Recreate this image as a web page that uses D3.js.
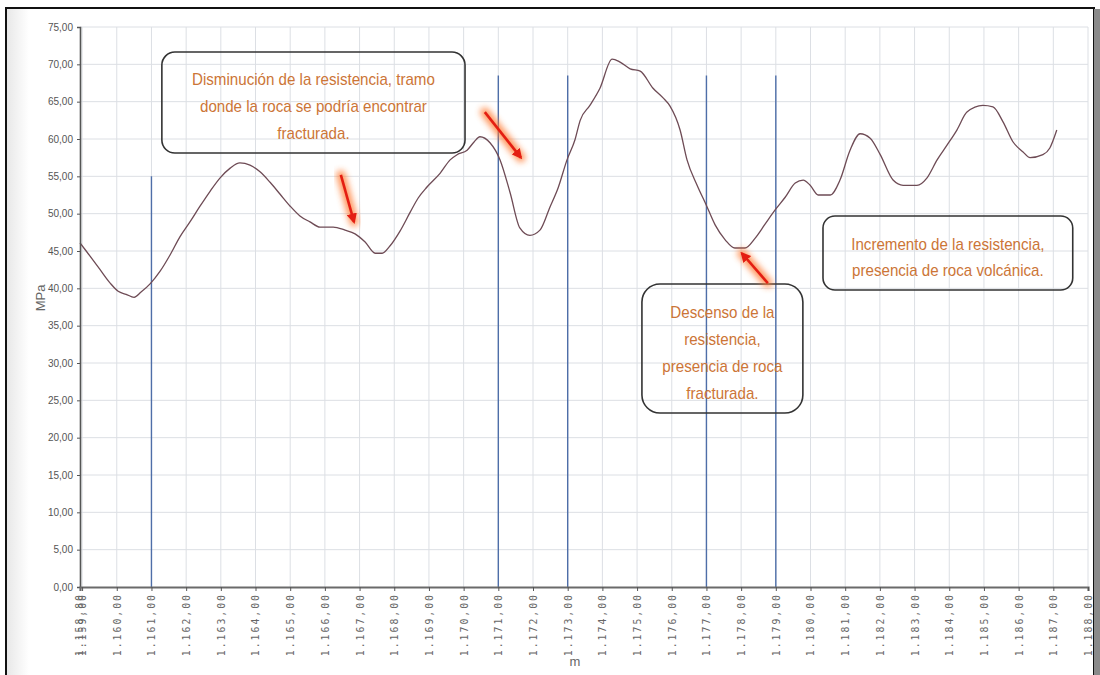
<!DOCTYPE html>
<html>
<head>
<meta charset="utf-8">
<script src="https://cdn.jsdelivr.net/npm/d3@7/dist/d3.min.js"></script>
<style>
  html, body { margin: 0; padding: 0; background: #fff; }
  svg { display: block; }
</style>
</head>
<body>
<svg id="chart" width="1100" height="675"></svg>
<script>
// Profile position (m) and uniaxial strength (MPa)
const depth = [
  1158.94, 1159.23, 1159.52, 1159.81, 1160.04, 1160.27, 1160.50, 1160.70, 1160.96, 1161.25,
  1161.54, 1161.82, 1162.11, 1162.40, 1162.69, 1162.98, 1163.27, 1163.55, 1163.84, 1164.13,
  1164.42, 1164.71, 1165.00, 1165.28, 1165.57, 1165.86, 1166.24, 1166.58, 1166.87, 1167.16,
  1167.45, 1167.65, 1167.88, 1168.17, 1168.46, 1168.69, 1168.95, 1169.32, 1169.61, 1169.81,
  1170.10, 1170.30, 1170.47, 1170.76, 1171.05, 1171.34, 1171.62, 1171.91, 1172.20, 1172.49,
  1172.72, 1172.98, 1173.21, 1173.36, 1173.64, 1173.93, 1174.28, 1174.51, 1174.80, 1175.09,
  1175.46, 1175.75, 1175.95, 1176.24, 1176.44, 1176.73, 1176.99, 1177.25, 1177.54, 1177.82,
  1178.11, 1178.40, 1178.69, 1178.98, 1179.27, 1179.56, 1179.79, 1179.99, 1180.22, 1180.57,
  1180.85, 1181.14, 1181.43, 1181.72, 1182.01, 1182.38, 1182.67, 1183.07, 1183.36, 1183.65,
  1183.94, 1184.22, 1184.51, 1184.97, 1185.26, 1185.55, 1185.84, 1186.12, 1186.33, 1186.70,
  1186.90, 1187.10
];
const strength = [
  46.1, 44.3, 42.5, 40.7, 39.6, 39.2, 38.8, 39.5, 40.6, 42.3,
  44.5, 46.9, 48.9, 51.0, 53.0, 54.8, 56.1, 56.8, 56.5, 55.6,
  54.2, 52.6, 51.0, 49.7, 48.9, 48.2, 48.2, 47.8, 47.3, 46.2,
  44.7, 44.7, 45.7, 47.7, 50.2, 52.1, 53.6, 55.4, 57.2, 57.9,
  58.5, 59.6, 60.3, 59.5, 57.2, 52.8, 48.1, 47.1, 47.8, 50.9,
  53.4, 57.2, 59.9, 62.5, 64.5, 66.8, 70.7, 70.3, 69.4, 69.1,
  66.8, 65.5, 64.4, 61.2, 57.2, 53.8, 51.2, 48.5, 46.5, 45.4,
  45.4, 46.7, 48.6, 50.5, 52.2, 54.1, 54.5, 53.8, 52.5, 52.5,
  54.5, 58.5, 60.7, 60.1, 57.9, 54.5, 53.8, 53.8, 54.8, 57.2,
  59.2, 61.2, 63.6, 64.5, 64.3, 62.3, 59.6, 58.3, 57.5, 57.9,
  58.8, 61.2
];

// Marker lines (position, top value)
const markerPos = [1161, 1171, 1173, 1177, 1179];
const markerTop = [55, 68.5, 68.5, 68.5, 68.5];

// Axis ticks
const xTickValues = d3.range(1159, 1189, 1);
const xStartLabel = "1.158,80";
const yTickValues = d3.range(0, 76, 5);

// Annotation texts and their frames (position / value extents)
const notes = [
  { lines: ["Disminución de la resistencia, tramo", "donde la roca se podría encontrar", "fracturada."],
    m0: 1161.30, m1: 1170.04, v0: 71.65, v1: 58.12, r: 13, lh: 27 },
  { lines: ["Descenso de la", "resistencia,", "presencia de roca", "fracturada."],
    m0: 1175.14, m1: 1179.78, v0: 40.58, v1: 23.3, r: 18, lh: 27 },
  { lines: ["Incremento de la resistencia,", "presencia de roca volcánica."],
    m0: 1180.36, m1: 1187.56, v0: 49.69, v1: 39.78, r: 12, lh: 26 }
];
// Arrows: [fromPos, fromVal, toPos, toVal]
const arrows = [
  [1166.46, 55.2, 1166.84, 48.9],
  [1170.61, 63.6, 1171.65, 57.5],
  [1178.77, 40.7, 1178.02, 44.7]
];

const svg = d3.select("#chart");
const W = 1100, H = 675;

const x = d3.scaleLinear().domain([1158.94, 1188]).range([80, 1088]);
const y = d3.scaleLinear().domain([0, 75]).range([587, 27]);

const defs = svg.append("defs");
defs.append("filter").attr("id", "glow").attr("x", "-50%").attr("y", "-50%").attr("width", "200%").attr("height", "200%")
  .append("feGaussianBlur").attr("stdDeviation", 3.2);
const sideShade = defs.append("linearGradient").attr("id", "sideShade").attr("x1", 0).attr("x2", 1);
sideShade.append("stop").attr("offset", 0).attr("stop-color", "#e8e8e8");
sideShade.append("stop").attr("offset", 1).attr("stop-color", "#ffffff");
defs.append("marker").attr("id", "head").attr("viewBox", "0 0 10 10").attr("refX", 8).attr("refY", 5)
  .attr("markerWidth", 4).attr("markerHeight", 4).attr("orient", "auto")
  .append("path").attr("d", "M0,0 L10,5 L0,10 z").attr("fill", "#e41e12");

// soft shading along the left margin
svg.append("rect").attr("x", 7).attr("y", 9).attr("width", 22).attr("height", H).attr("fill", "url(#sideShade)");

// grid
const grid = svg.append("g");
grid.selectAll("line.v").data(xTickValues).join("line")
  .attr("x1", d => x(d)).attr("x2", d => x(d)).attr("y1", y(75)).attr("y2", y(0))
  .attr("stroke", "#dcdfe4").attr("stroke-width", 1);
grid.selectAll("line.h").data(yTickValues.filter(d => d > 0)).join("line")
  .attr("x1", x.range()[0]).attr("x2", x.range()[1]).attr("y1", d => y(d)).attr("y2", d => y(d))
  .attr("stroke", "#dcdfe4").attr("stroke-width", 1);

// marker lines
svg.append("g").selectAll("line").data(markerPos).join("line")
  .attr("x1", d => x(d)).attr("x2", d => x(d))
  .attr("y1", y(0)).attr("y2", (d, i) => y(markerTop[i]))
  .attr("stroke", "#4e6ea8").attr("stroke-width", 1.4);

// strength curve
const pts = depth.map((d, i) => [d, strength[i]]);
svg.append("path").datum(pts)
  .attr("fill", "none").attr("stroke", "#6e4b55").attr("stroke-width", 1.3)
  .attr("d", d3.line().x(d => x(d[0])).y(d => y(d[1])).curve(d3.curveMonotoneX));

// axes
const fmt = v => d3.format(",.2f")(v).replace(/,/g, "#").replace(".", ",").replace(/#/g, ".");
const yAxis = svg.append("g").attr("transform", `translate(${x.range()[0]},0)`)
  .call(d3.axisLeft(y).tickValues(yTickValues).tickSize(3).tickPadding(4).tickFormat(fmt));
yAxis.select(".domain").attr("stroke", "#555").attr("stroke-width", 1.6);
yAxis.selectAll(".tick line").attr("stroke", "#555");
yAxis.selectAll("text").attr("fill", "#555").style("font-family", "Liberation Sans, Arial, sans-serif").style("font-size", "10px");

const xAxis = svg.append("g").attr("transform", `translate(0,${y(0)})`)
  .call(d3.axisBottom(x).tickValues(xTickValues).tickSize(4).tickFormat(fmt));
xAxis.select(".domain").attr("stroke", "#6a6a6a").attr("stroke-width", 2.2);
xAxis.selectAll(".tick line").attr("stroke", "#555");
xAxis.selectAll("text")
  .attr("transform", "rotate(-90)").attr("x", -6).attr("y", 0).attr("dy", "0.35em")
  .attr("text-anchor", "end")
  .attr("fill", "#666").style("font-family", "DejaVu Sans Mono, monospace").style("font-size", "9.8px")
  .style("letter-spacing", "2px");
// label at the axis start
xAxis.append("text").attr("transform", `translate(${x.range()[0]},0) rotate(-90)`)
  .attr("x", -6).attr("dy", "0.35em").attr("text-anchor", "end")
  .attr("fill", "#666").style("font-family", "DejaVu Sans Mono, monospace").style("font-size", "9.8px")
  .style("letter-spacing", "2px").text(xStartLabel);

// axis titles
svg.append("text").attr("transform", "translate(45,298) rotate(-90)").attr("text-anchor", "middle")
  .attr("fill", "#666").style("font-family", "Liberation Sans, Arial, sans-serif").style("font-size", "13px").text("MPa");
svg.append("text").attr("x", 575).attr("y", 666).attr("text-anchor", "middle")
  .attr("fill", "#666").style("font-family", "Liberation Sans, Arial, sans-serif").style("font-size", "13px").text("m");

// annotation boxes
const noteG = svg.append("g");
notes.forEach(n => {
  const x0 = x(n.m0), x1 = x(n.m1), y0 = y(n.v0), y1 = y(n.v1);
  noteG.append("rect").attr("x", x0).attr("y", y0).attr("width", x1 - x0).attr("height", y1 - y0)
    .attr("rx", n.r).attr("fill", "none").attr("stroke", "#333").attr("stroke-width", 1.6);
  const cy = (y0 + y1) / 2 + 4 - (n.lines.length - 1) * n.lh / 2;
  n.lines.forEach((t, i) => {
    noteG.append("text")
      .attr("transform", `translate(${(x0 + x1) / 2},${cy + i * n.lh}) scale(0.89,1)`)
      .attr("dy", "0.35em")
      .attr("text-anchor", "middle").attr("fill", "#cc7537")
      .style("font-family", "Liberation Sans, Arial, sans-serif")
      .style("font-size", "17px").text(t);
  });
});

// arrows with glow
const arrowG = svg.append("g");
arrows.forEach(a => {
  arrowG.append("line").attr("x1", x(a[0])).attr("y1", y(a[1])).attr("x2", x(a[2])).attr("y2", y(a[3]))
    .attr("stroke", "#ff7a30").attr("stroke-width", 9).attr("stroke-linecap", "round")
    .attr("opacity", 0.8).attr("filter", "url(#glow)");
  arrowG.append("line").attr("x1", x(a[0])).attr("y1", y(a[1])).attr("x2", x(a[2])).attr("y2", y(a[3]))
    .attr("stroke", "#e41e12").attr("stroke-width", 2.6).attr("marker-end", "url(#head)");
});

// frame
svg.append("rect").attr("x", 6).attr("y", 8).attr("width", 1088).attr("height", 700)
  .attr("fill", "none").attr("stroke", "#111").attr("stroke-width", 2);
svg.append("rect").attr("x", 1094).attr("y", 9).attr("width", 6).attr("height", H).attr("fill", "#8a8a8a");
</script>
</body>
</html>
